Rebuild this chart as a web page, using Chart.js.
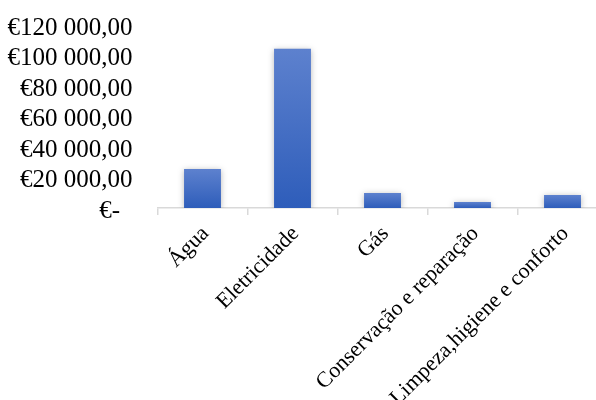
<!DOCTYPE html>
<html>
<head>
<meta charset="utf-8">
<script src="https://cdn.jsdelivr.net/npm/chart.js@4"></script>
<style>
  html, body { margin: 0; padding: 0; background: #fff; overflow: hidden; }
  #wrap { position: relative; width: 610px; height: 400px; }
</style>
</head>
<body>
<div id="wrap"><canvas id="despesasChart"></canvas></div>
<script>
// Chart data
const categories = ['Água', 'Eletricidade', 'Gás', 'Conservação e reparação', 'Limpeza,higiene e conforto'];
const valores = [25500, 104500, 9800, 3900, 8500];
const yTickLabels = ['€-', '€20 000,00', '€40 000,00', '€60 000,00', '€80 000,00', '€100 000,00', '€120 000,00'];

// Soft shadow behind bars
const barShadow = {
    id: 'barShadow',
    beforeDatasetsDraw(chart) {
        const ctx = chart.ctx;
        ctx.save();
        ctx.shadowColor = 'rgba(0, 0, 0, 0.28)';
        ctx.shadowBlur = 6;
        ctx.shadowOffsetX = 0;
        ctx.shadowOffsetY = 1;
    },
    afterDatasetsDraw(chart) {
        chart.ctx.restore();
    }
};

// Gradient per bar, lighter at the top
function barGradient(context) {
    const chart = context.chart;
    const yScale = chart.scales.y;
    if (!chart.chartArea || !yScale || context.raw === undefined) {
        return '#3f6cc6';
    }
    const top = yScale.getPixelForValue(context.raw);
    const base = yScale.getPixelForValue(0);
    const g = chart.ctx.createLinearGradient(0, top, 0, base);
    g.addColorStop(0, '#5d81ce');
    g.addColorStop(1, '#2e5dba');
    return g;
}

const serif = '"Liberation Serif", "Times New Roman", serif';

const ctx = document.getElementById('despesasChart');
new Chart(ctx, {
    type: 'bar',
    data: {
        labels: categories,
        datasets: [{
            data: valores,
            backgroundColor: barGradient,
            borderWidth: 0,
            barPercentage: 0.41,
            categoryPercentage: 1.0
        }]
    },
    options: {
        responsive: true,
        maintainAspectRatio: false,
        animation: false,
        layout: {
            padding: { left: 0, top: 25, right: 2.5, bottom: 0 }
        },
        plugins: {
            legend: { display: false },
            tooltip: { enabled: false }
        },
        scales: {
            x: {
                grid: {
                    display: true,
                    drawOnChartArea: false,
                    drawTicks: true,
                    tickLength: 7,
                    color: '#d9d9d9',
                    lineWidth: 1.5
                },
                border: { display: true, color: '#d9d9d9', width: 1.5 },
                ticks: {
                    color: '#000',
                    font: { family: serif, size: 22 },
                    maxRotation: 45,
                    minRotation: 45,
                    padding: 6,
                    labelOffset: 3,
                    autoSkip: false
                },
                afterFit: function(scale) {
                    scale.paddingLeft = 0;
                    scale.paddingRight = 0;
                    scale.height = 192;
                }
            },
            y: {
                min: 0,
                max: 120000,
                grid: { display: false, drawTicks: false },
                border: { display: false },
                ticks: {
                    stepSize: 20000,
                    autoSkip: false,
                    color: '#000',
                    padding: 25,
                    labelOffset: 3,
                    font: { family: serif, size: 25 },
                    callback: function(value, index) {
                        return index === 0 ? yTickLabels[0] + '  ' : yTickLabels[index];
                    }
                },
                afterFit: function(scale) {
                    scale.paddingTop = 0;
                    scale.paddingBottom = 0;
                    scale.width = 157.5;
                }
            }
        }
    },
    plugins: [barShadow]
});
</script>
</body>
</html>
